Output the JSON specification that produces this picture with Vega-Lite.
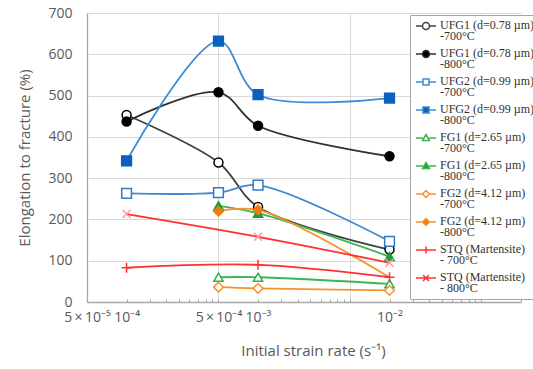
{
  "$schema": "https://vega.github.io/schema/vega-lite/v6.json",
  "width": 434,
  "height": 289,
  "autosize": {"type": "none"},
  "padding": {"left": 87, "top": 13, "right": 12, "bottom": 67},
  "background": "white",
  "config": {
    "view": {"stroke": null},
    "font": "Open Sans"
  },
  "data": {
    "values": [
      {"series": "UFG1 (d=0.78 µm)|-700°C", "rate": 0.0001, "elong": 453},
      {"series": "UFG1 (d=0.78 µm)|-700°C", "rate": 0.0005, "elong": 338},
      {"series": "UFG1 (d=0.78 µm)|-700°C", "rate": 0.001, "elong": 230},
      {"series": "UFG1 (d=0.78 µm)|-700°C", "rate": 0.01, "elong": 127},
      {"series": "UFG1 (d=0.78 µm)|-800°C", "rate": 0.0001, "elong": 437},
      {"series": "UFG1 (d=0.78 µm)|-800°C", "rate": 0.0005, "elong": 508},
      {"series": "UFG1 (d=0.78 µm)|-800°C", "rate": 0.001, "elong": 427},
      {"series": "UFG1 (d=0.78 µm)|-800°C", "rate": 0.01, "elong": 353},
      {"series": "UFG2 (d=0.99 µm)|-700°C", "rate": 0.0001, "elong": 263},
      {"series": "UFG2 (d=0.99 µm)|-700°C", "rate": 0.0005, "elong": 265},
      {"series": "UFG2 (d=0.99 µm)|-700°C", "rate": 0.001, "elong": 283},
      {"series": "UFG2 (d=0.99 µm)|-700°C", "rate": 0.01, "elong": 147},
      {"series": "UFG2 (d=0.99 µm)|-800°C", "rate": 0.0001, "elong": 342},
      {"series": "UFG2 (d=0.99 µm)|-800°C", "rate": 0.0005, "elong": 632},
      {"series": "UFG2 (d=0.99 µm)|-800°C", "rate": 0.001, "elong": 502},
      {"series": "UFG2 (d=0.99 µm)|-800°C", "rate": 0.01, "elong": 494},
      {"series": "FG1 (d=2.65 µm)|-700°C", "rate": 0.0005, "elong": 60},
      {"series": "FG1 (d=2.65 µm)|-700°C", "rate": 0.001, "elong": 60},
      {"series": "FG1 (d=2.65 µm)|-700°C", "rate": 0.01, "elong": 44},
      {"series": "FG1 (d=2.65 µm)|-800°C", "rate": 0.0005, "elong": 233},
      {"series": "FG1 (d=2.65 µm)|-800°C", "rate": 0.001, "elong": 215},
      {"series": "FG1 (d=2.65 µm)|-800°C", "rate": 0.01, "elong": 110},
      {"series": "FG2 (d=4.12 µm)|-700°C", "rate": 0.0005, "elong": 36},
      {"series": "FG2 (d=4.12 µm)|-700°C", "rate": 0.001, "elong": 33},
      {"series": "FG2 (d=4.12 µm)|-700°C", "rate": 0.01, "elong": 28},
      {"series": "FG2 (d=4.12 µm)|-800°C", "rate": 0.0005, "elong": 220},
      {"series": "FG2 (d=4.12 µm)|-800°C", "rate": 0.001, "elong": 223},
      {"series": "FG2 (d=4.12 µm)|-800°C", "rate": 0.01, "elong": 60},
      {"series": "STQ (Martensite)|- 700°C", "rate": 0.0001, "elong": 83},
      {"series": "STQ (Martensite)|- 700°C", "rate": 0.001, "elong": 90},
      {"series": "STQ (Martensite)|- 700°C", "rate": 0.01, "elong": 60},
      {"series": "STQ (Martensite)|- 800°C", "rate": 0.0001, "elong": 213},
      {"series": "STQ (Martensite)|- 800°C", "rate": 0.001, "elong": 158},
      {"series": "STQ (Martensite)|- 800°C", "rate": 0.01, "elong": 95}
    ]
  },
  "encoding": {
    "x": {
      "field": "rate",
      "type": "quantitative",
      "scale": {"type": "log", "domain": [0.00005, 0.1], "nice": false},
      "axis": {
        "title": "Initial strain rate (s⁻¹)",
        "titleX": 226,
        "values": [0.00005, 0.0001, 0.00015, 0.0002, 0.00025, 0.0003, 0.00035, 0.0004, 0.00045, 0.0005, 0.001, 0.0015, 0.002, 0.0025, 0.003, 0.0035, 0.004, 0.0045, 0.005, 0.01, 0.015, 0.02, 0.025, 0.03, 0.035, 0.04, 0.045, 0.05, 0.1],
        "labelExpr": "abs(datum.value/5e-5-1)<0.01 ? '5\u2009×\u200910⁻⁵' : abs(datum.value/1e-4-1)<0.01 ? '10⁻⁴' : abs(datum.value/5e-4-1)<0.01 ? '5\u2009×\u200910⁻⁴' : abs(datum.value/1e-3-1)<0.01 ? '10⁻³' : abs(datum.value/1e-2-1)<0.01 ? '10⁻²' : ''",
        "labelOverlap": false,
        "labelBound": false,
        "labelFlush": false,
        "labelFontSize": 14,
        "labelColor": "#595959",
        "labelPadding": 11,
        "domainColor": "#A6A6A6",
        "domainWidth": 1.3,
        "tickColor": "#A6A6A6",
        "tickSize": -3,
        "grid": true,
        "gridColor": "#D9D9D9",
        "gridOpacity": {"condition": {"test": "abs(datum.value/5e-4-1)<0.01 || abs(datum.value/5e-3-1)<0.01 || abs(datum.value/5e-2-1)<0.01", "value": 1}, "value": 0},
        "titleFontSize": 15,
        "titleFontWeight": "normal",
        "titleColor": "#595959",
        "titlePadding": 19
      }
    },
    "y": {
      "field": "elong",
      "type": "quantitative",
      "scale": {"domain": [0, 700], "nice": false},
      "axis": {
        "title": "Elongation to fracture (%)",
        "values": [0, 100, 200, 300, 400, 500, 600, 700],
        "ticks": false,
        "labelFontSize": 14,
        "labelColor": "#595959",
        "labelPadding": 15,
        "domainColor": "#A6A6A6",
        "domainWidth": 1.3,
        "grid": true,
        "gridColor": "#D9D9D9",
        "titleFontSize": 15,
        "titleFontWeight": "normal",
        "titleColor": "#595959",
        "titlePadding": 15
      }
    }
  },
  "layer": [
    {
      "mark": {"type": "line", "interpolate": "catmull-rom", "strokeWidth": 1.8},
      "encoding": {
        "color": {
          "field": "series",
          "type": "nominal",
          "sort": null,
          "scale": {
            "domain": ["UFG1 (d=0.78 µm)|-700°C", "UFG1 (d=0.78 µm)|-800°C", "UFG2 (d=0.99 µm)|-700°C", "UFG2 (d=0.99 µm)|-800°C", "FG1 (d=2.65 µm)|-700°C", "FG1 (d=2.65 µm)|-800°C", "FG2 (d=4.12 µm)|-700°C", "FG2 (d=4.12 µm)|-800°C", "STQ (Martensite)|- 700°C", "STQ (Martensite)|- 800°C"],
            "range": ["#404040", "#303030", "#3D8BD3", "#3D8BD3", "#3DB552", "#3DB552", "#F7922A", "#F7922A", "#FF3030", "#FF3030"]
          },
          "legend": {
            "title": null,
            "orient": "none",
            "legendX": 323,
            "legendY": 2,
            "fillColor": "white",
            "strokeColor": "#A6A6A6",
            "padding": 5,
            "labelFont": "Liberation Serif",
            "labelFontSize": 12,
            "labelColor": "#333333",
            "labelLimit": 200,
            "labelExpr": "split(datum.label, '|')",
            "labelBaseline": "top",
            "labelOffset": 13,
            "symbolSize": 100,
            "rowPadding": 5,
            "encode": {
              "symbols": {
                "update": {
                  "shape": {"signal": "indexof(datum.value,'UFG1')>=0 ? 'M-1,0H0.3M1.7,0H3M0.3,0A0.7,0.7 0 1,1 1.7,0A0.7,0.7 0 1,1 0.3,0Z' : indexof(datum.value,'UFG2')>=0 ? 'M-1,0H0.4M1.6,0H3M0.4,-0.6H1.6V0.6H0.4Z' : indexof(datum.value,'FG1')>=0 ? 'M-1,0H0.4M1.6,0H3M1,-0.7L1.7,0.5L0.3,0.5Z' : indexof(datum.value,'FG2')>=0 ? 'M-1,0H0.3M1.7,0H3M1,-0.7L1.7,0L1,0.7L0.3,0Z' : indexof(datum.value,'700')>=0 ? 'M-1,0H3M1,-0.7V0.7' : 'M-1,0H3M0.4,-0.6L1.6,0.6M1.6,-0.6L0.4,0.6'"},
                  "fill": {"signal": "scale('fill', datum.value)"},
                  "stroke": {"signal": "scale('color', datum.value)"},
                  "strokeWidth": {"value": 1.5},
                  "size": {"value": 100},
                  "opacity": {"value": 1}
                }
              },
              "labels": {
                "update": {
                  "dy": {"value": -6},
                  "lineHeight": {"value": 11}
                }
              }
            }
          }
        }
      }
    },
    {
      "encoding": {
        "stroke": {
          "field": "series",
          "type": "nominal",
          "scale": {
            "domain": ["UFG1 (d=0.78 µm)|-700°C", "UFG1 (d=0.78 µm)|-800°C", "UFG2 (d=0.99 µm)|-700°C", "UFG2 (d=0.99 µm)|-800°C", "FG1 (d=2.65 µm)|-700°C", "FG1 (d=2.65 µm)|-800°C", "FG2 (d=4.12 µm)|-700°C", "FG2 (d=4.12 µm)|-800°C", "STQ (Martensite)|- 700°C", "STQ (Martensite)|- 800°C"],
            "range": ["#000000", "#000000", "#2E7BC9", "#0A60BE", "#2DB04C", "#16A03A", "#F7922A", "#F07D10", "#FF3030", "#FF9A9A"]
          },
          "legend": null
        },
        "fill": {
          "field": "series",
          "type": "nominal",
          "scale": {
            "domain": ["UFG1 (d=0.78 µm)|-700°C", "UFG1 (d=0.78 µm)|-800°C", "UFG2 (d=0.99 µm)|-700°C", "UFG2 (d=0.99 µm)|-800°C", "FG1 (d=2.65 µm)|-700°C", "FG1 (d=2.65 µm)|-800°C", "FG2 (d=4.12 µm)|-700°C", "FG2 (d=4.12 µm)|-800°C", "STQ (Martensite)|- 700°C", "STQ (Martensite)|- 800°C"],
            "range": ["#FFFFFF", "#000000", "#FFFFFF", "#0A60BE", "#FFFFFF", "#16A03A", "#FFFFFF", "#F07D10", "transparent", "transparent"]
          },
          "legend": null
        }
      },
      "layer": [
        {
          "transform": [{"filter": {"field": "series", "oneOf": ["UFG1 (d=0.78 µm)|-700°C", "UFG1 (d=0.78 µm)|-800°C"]}}],
          "mark": {"type": "point", "shape": "circle", "filled": false, "size": 80, "strokeWidth": 1.5, "opacity": 1}
        },
        {
          "transform": [{"filter": {"field": "series", "oneOf": ["UFG2 (d=0.99 µm)|-700°C", "UFG2 (d=0.99 µm)|-800°C"]}}],
          "mark": {"type": "point", "shape": "square", "filled": false, "size": 95, "strokeWidth": 1.5, "opacity": 1}
        },
        {
          "transform": [{"filter": {"field": "series", "oneOf": ["FG1 (d=2.65 µm)|-700°C", "FG1 (d=2.65 µm)|-800°C"]}}],
          "mark": {"type": "point", "shape": "triangle-up", "filled": false, "size": 85, "strokeWidth": 1.5, "opacity": 1}
        },
        {
          "transform": [
            {"filter": {"field": "series", "oneOf": ["FG2 (d=4.12 µm)|-700°C", "FG2 (d=4.12 µm)|-800°C"]}},
            {"filter": "!(datum.series === 'FG2 (d=4.12 µm)|-800°C' && datum.rate === 0.01)"}
          ],
          "mark": {"type": "point", "shape": "diamond", "filled": false, "size": 95, "strokeWidth": 1.5, "opacity": 1}
        },
        {
          "transform": [{"filter": {"field": "series", "equal": "STQ (Martensite)|- 700°C"}}],
          "mark": {"type": "point", "shape": "M-1,0H1M0,-1V1", "filled": false, "size": 100, "strokeWidth": 1.5, "opacity": 1}
        },
        {
          "transform": [{"filter": {"field": "series", "equal": "STQ (Martensite)|- 800°C"}}],
          "mark": {"type": "point", "shape": "M-0.8,-0.8L0.8,0.8M0.8,-0.8L-0.8,0.8", "filled": false, "size": 100, "strokeWidth": 1.5, "opacity": 1}
        }
      ]
    }
  ]
}
